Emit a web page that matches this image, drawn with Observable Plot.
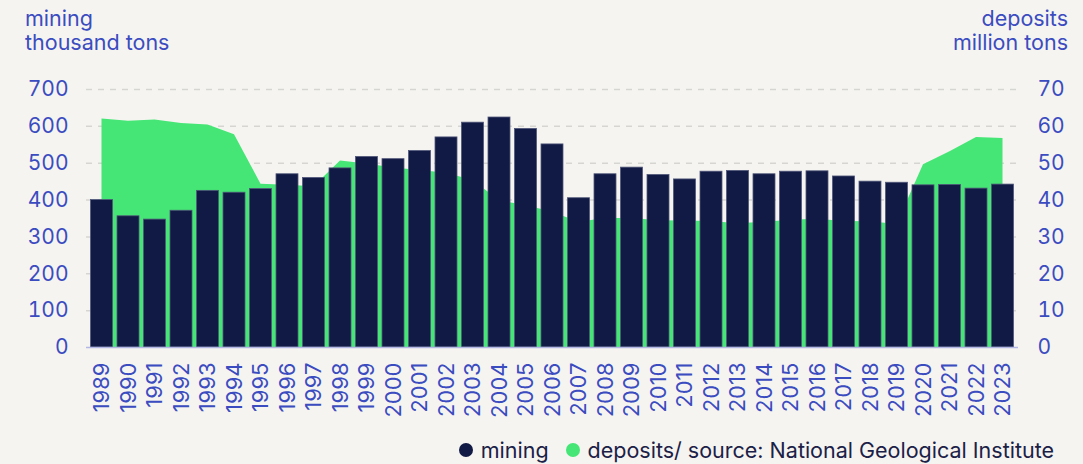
<!DOCTYPE html>
<html><head><meta charset="utf-8">
<script src="https://cdn.jsdelivr.net/npm/d3@7"></script>
<script src="https://cdn.jsdelivr.net/npm/@observablehq/plot@0.6"></script>
<style>
html,body{margin:0;padding:0;background:#f5f4f0;}
body{width:1083px;height:464px;overflow:hidden;font-family:Inter,"Noto Sans",sans-serif;}
#head{position:relative;height:60px;color:#3b4cc0;font-size:21.5px;line-height:24px;}
#head .l{position:absolute;left:25px;top:6px;}
#head .r{position:absolute;right:15px;top:6px;text-align:right;}
#legend{position:relative;height:29px;color:#1b2047;font-size:21.5px;}
#legend .items{position:absolute;right:29px;top:2px;display:flex;align-items:center;white-space:nowrap;}
#legend .dot{display:inline-block;width:14px;height:14px;border-radius:50%;margin-right:8px;}
#legend .it{display:flex;align-items:center;margin-left:17px;}
</style></head>
<body>
<div id="head"><div class="l">mining<br>thousand tons</div><div class="r">deposits<br>million tons</div></div>
<div id="chart"></div>
<div id="legend"><div class="items">
<span class="it"><span class="dot" style="background:#111a44"></span>mining</span>
<span class="it"><span class="dot" style="background:#45e675"></span>deposits/ source: National Geological Institute</span>
</div></div>
<script>
const years = d3.range(1989, 2024).map(String);
const mining = [400,356,347,371,425,420,430,470,460,486,517,511,533,570,610,624,593,551,405,470,488,468,456,477,479,470,477,478,464,450,447,440,441,431,442];
const deposits = [62.0,61.4,61.7,60.8,60.4,57.7,44.3,44.0,43.6,50.6,49.8,48.7,48.0,47.3,45.3,39.8,38.5,36.7,34.0,35.0,35.0,34.4,34.3,34.2,33.6,34.0,34.5,34.8,34.2,34.1,33.4,49.6,53.1,57.0,56.7];
const leftTicks = [0,100,200,300,400,500,600,700];
const rightTicks = [0,10,20,30,40,50,60,70];
const ratio = 10;

const data = years.map((y, i) => ({year: y, mining: mining[i], deposits: deposits[i]}));
const blue = "#3b4cc0";

const chart = Plot.plot({
  width: 1083,
  height: 375,
  marginTop: 29,
  marginBottom: 88,
  marginLeft: 86,
  marginRight: 65,
  style: {background: "transparent", fontFamily: "Inter, 'Noto Sans', sans-serif", fontSize: "21px", color: blue},
  x: {domain: years, padding: 0.17, round: false, label: null},
  y: {domain: [0, 700], label: null},
  marks: [
    Plot.gridY(leftTicks.slice(1), {stroke: "#d6d5d2", strokeOpacity: 1, strokeWidth: 1.5, strokeDasharray: "6,6"}),
    Plot.areaY(data, {x: "year", y: d => d.deposits * ratio, fill: "#45e675", curve: "linear"}),
    Plot.barY(data, {x: "year", y: "mining", fill: "#111a44", stroke: "#50577a", strokeWidth: 0.8}),
    Plot.ruleY([0], {stroke: "#b3b7e4", strokeWidth: 1.5}),
    Plot.axisY(leftTicks, {anchor: "left", tickSize: 0, tickPadding: 18, label: null, fill: blue, fontSize: 21}),
    Plot.axisY(rightTicks, {anchor: "right", y: d => d * ratio, tickFormat: d => String(d), tickSize: 0, tickPadding: 19, label: null, fill: blue, fontSize: 21}),
    Plot.axisX({tickRotate: -90, tickSize: 0, tickPadding: 15, label: null, fill: blue, fontSize: 22})
  ]
});
document.getElementById("chart").appendChild(chart);
</script>
</body></html>
